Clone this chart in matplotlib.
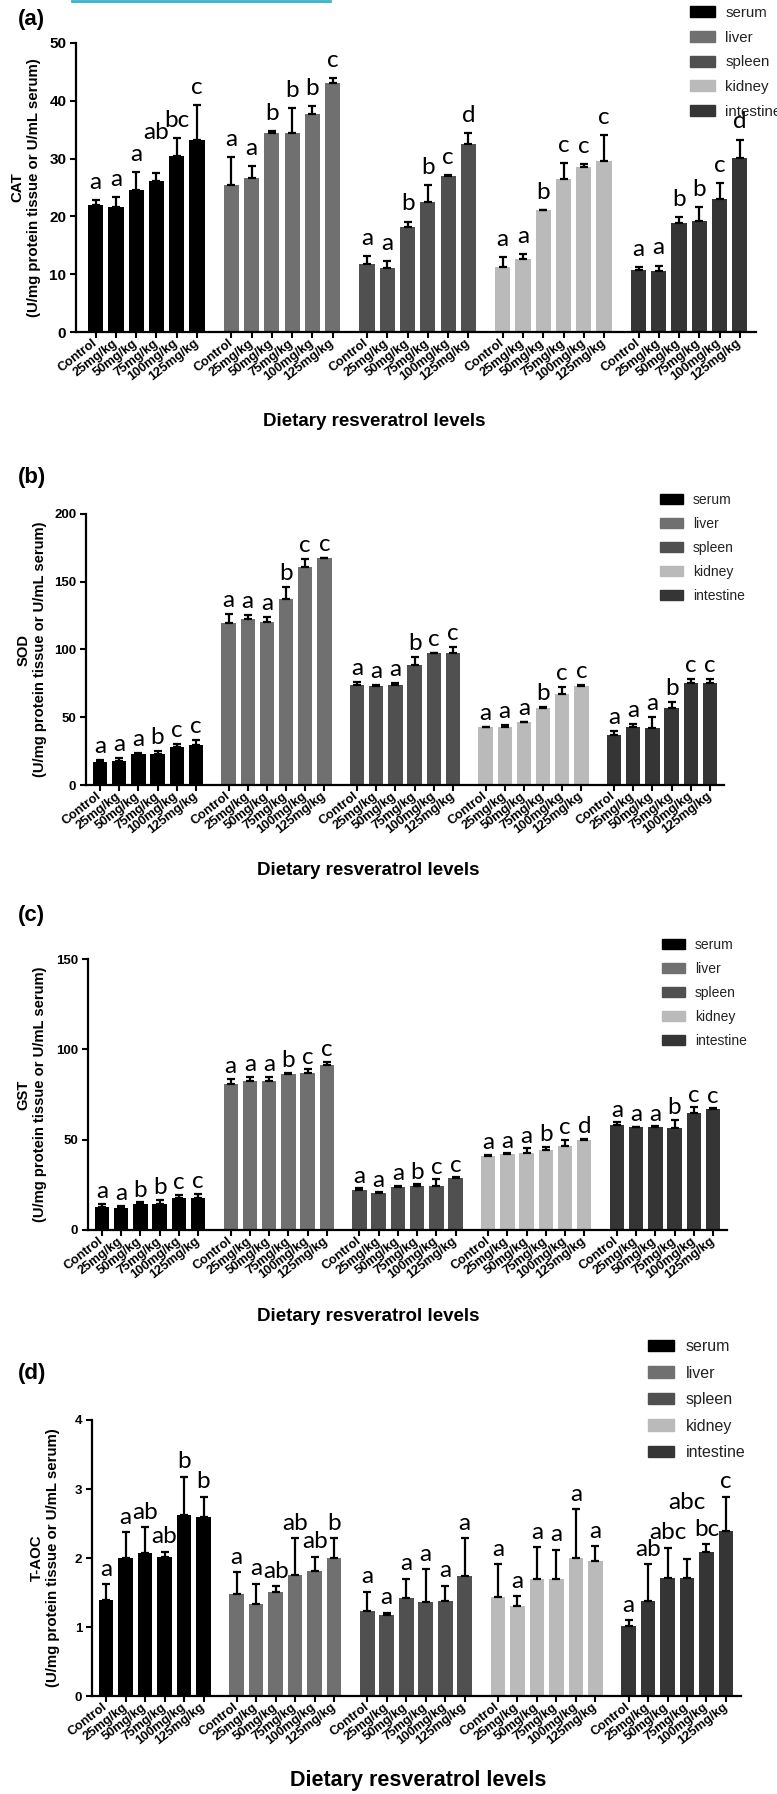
import numpy as np
import matplotlib
matplotlib.use("Agg")
import matplotlib.pyplot as plt
from matplotlib.lines import Line2D

# ---- data ----
doses = ["Control", "25mg/kg", "50mg/kg", "75mg/kg", "100mg/kg", "125mg/kg"]
tissues = ["serum", "liver", "spleen", "kidney", "intestine"]
tissue_colors = ["#000000", "#707070", "#505050", "#bababa", "#353535"]

# (a) CAT, rows = tissues, cols = doses
cat_mean = [[21.9, 21.7, 24.6, 26.1, 30.5, 33.3],
            [25.5, 26.6, 34.5, 34.5, 37.7, 43.1],
            [11.8, 11.1, 18.1, 22.5, 27.0, 32.5],
            [11.3, 12.7, 21.1, 26.4, 28.5, 29.6],
            [10.8, 10.6, 18.9, 19.2, 23.0, 30.1]]
cat_err = [[0.9, 1.7, 3.1, 1.4, 3.1, 5.9],
           [4.7, 2.1, 0.3, 4.3, 1.4, 0.9],
           [1.3, 1.1, 1.0, 2.9, 0.1, 1.9],
           [1.7, 0.8, 0.0, 2.8, 0.5, 4.5],
           [0.4, 0.9, 1.0, 2.4, 2.8, 3.2]]
cat_sig = [["a", "a", "a", "ab", "bc", "c"],
           ["a", "a", "b", "b", "b", "c"],
           ["a", "a", "b", "b", "c", "d"],
           ["a", "a", "b", "c", "c", "c"],
           ["a", "a", "b", "b", "c", "d"]]

# (b) SOD
sod_mean = [[16.7, 17.9, 23.1, 22.6, 28.3, 29.5],
            [119.3, 122.5, 120.5, 137.0, 161.1, 167.3],
            [74.0, 73.3, 73.6, 88.3, 97.4, 97.4],
            [42.6, 43.0, 46.2, 56.6, 67.2, 73.1],
            [37.1, 43.0, 42.3, 56.6, 75.0, 75.5]]
sod_err = [[1.7, 1.8, 0.2, 2.7, 1.7, 3.7],
           [6.7, 3.2, 3.7, 9.3, 5.5, 0.0],
           [1.8, 0.7, 1.9, 6.4, 0.0, 4.7],
           [0.0, 1.3, 0.5, 0.7, 4.9, 0.5],
           [2.8, 1.8, 8.1, 4.4, 3.5, 2.7]]
sod_sig = [["a", "a", "a", "b", "c", "c"],
           ["a", "a", "a", "b", "c", "c"],
           ["a", "a", "a", "b", "c", "c"],
           ["a", "a", "a", "b", "c", "c"],
           ["a", "a", "a", "b", "c", "c"]]

# (c) GST
gst_mean = [[12.9, 12.0, 14.4, 14.4, 17.9, 17.5],
            [80.6, 82.5, 82.5, 86.2, 86.7, 91.1],
            [22.1, 20.7, 24.0, 24.5, 24.3, 29.0],
            [41.1, 42.1, 42.4, 44.3, 46.5, 49.8],
            [58.1, 57.0, 57.2, 56.6, 64.9, 67.0]]
gst_err = [[1.5, 1.5, 0.9, 2.2, 1.5, 2.4],
           [3.0, 2.3, 2.3, 0.9, 2.2, 2.0],
           [1.0, 0.3, 0.5, 0.8, 3.8, 0.3],
           [0.4, 0.3, 2.8, 1.8, 3.3, 0.6],
           [1.5, 0.2, 0.2, 4.3, 3.0, 0.4]]
gst_sig = [["a", "a", "b", "b", "c", "c"],
           ["a", "a", "a", "b", "c", "c"],
           ["a", "a", "a", "b", "c", "c"],
           ["a", "a", "a", "b", "c", "d"],
           ["a", "a", "a", "b", "c", "c"]]

# (d) T-AOC
taoc_mean = [[1.39, 2.00, 2.07, 2.02, 2.63, 2.59],
             [1.48, 1.33, 1.51, 1.75, 1.81, 2.00],
             [1.23, 1.17, 1.42, 1.36, 1.37, 1.74],
             [1.43, 1.30, 1.69, 1.69, 2.00, 1.95],
             [1.01, 1.38, 1.71, 1.71, 2.09, 2.39]]
taoc_err = [[0.23, 0.37, 0.38, 0.07, 0.55, 0.30],
            [0.31, 0.30, 0.08, 0.54, 0.21, 0.29],
            [0.28, 0.04, 0.28, 0.48, 0.23, 0.55],
            [0.48, 0.15, 0.47, 0.43, 0.71, 0.22],
            [0.09, 0.53, 0.44, 0.28, 0.11, 0.50]]
taoc_sig = [["a", "a", "ab", "ab", "b", "b"],
            ["a", "a", "ab", "ab", "ab", "b"],
            ["a", "a", "a", "a", "a", "a"],
            ["a", "a", "a", "a", "a", "a"],
            ["a", "ab", "abc", "abc", "bc", "c"]]

# ---- layout (pixel positions in a 777x1794 canvas) ----
W, H = 777, 1794
GROUP_STEP = 6.7

panels = [
    dict(tag="(a)", tag_y=20, name="CAT", mean=cat_mean, err=cat_err, sig=cat_sig,
         box=(76, 43, 756, 332), lpad=0.97, rpad=0.8, ymax=50, step=10,
         ytick_fs=11, ylab_x=26, ylab_fs=10.8, xlab=(374, 422, 13.5), leg=(690, 17, 10.8),
         sig_off=8, lift={(0, 3): 4.0}),
    dict(tag="(b)", tag_y=478, name="SOD", mean=sod_mean, err=sod_err, sig=sod_sig,
         box=(86, 514, 724, 785), lpad=0.73, rpad=0.73, ymax=200, step=50,
         ytick_fs=9.5, ylab_x=32, ylab_fs=10.6, xlab=(368, 870, 13.5), leg=(660, 503, 10),
         sig_off=5, lift={}),
    dict(tag="(c)", tag_y=915, name="GST", mean=gst_mean, err=gst_err, sig=gst_sig,
         box=(88, 959, 727, 1230), lpad=0.73, rpad=0.73, ymax=150, step=50,
         ytick_fs=9.5, ylab_x=32, ylab_fs=10.6, xlab=(368, 1316, 13.5), leg=(662, 948, 10),
         sig_off=4, lift={}),
    dict(tag="(d)", tag_y=1373, name="T-AOC", mean=taoc_mean, err=taoc_err, sig=taoc_sig,
         box=(92, 1420, 741, 1696), lpad=0.72, rpad=0.77, ymax=4, step=1,
         ytick_fs=9.5, ylab_x=45, ylab_fs=10.8, xlab=(418, 1780, 15.5), leg=(648, 1351, 11.5),
         sig_off=6, lift={(4, 3): 0.6}),
]

plt.rcParams['font.family'] = ['Liberation Sans', 'DejaVu Sans']

fig = plt.figure(figsize=(W / 100, H / 100), dpi=100)

# the cyan link underline at the very top
fig.add_artist(Line2D([72 / W, 330 / W], [1 - 1 / H, 1 - 1 / H], color="#3ab3c9", lw=2))

for p in panels:
    l, t, r, b = p["box"]
    ax = fig.add_axes([l / W, 1 - b / H, (r - l) / W, (b - t) / H])

    xticks = []
    for g in range(len(tissues)):
        xs = g * GROUP_STEP + np.arange(len(doses))
        m = np.array(p["mean"][g])
        e = np.array(p["err"][g])
        ax.bar(xs, m, width=0.75, color=tissue_colors[g], zorder=2)
        ax.errorbar(xs, m, yerr=[np.zeros(len(m)), e], fmt="none", ecolor="black",
                    elinewidth=1.6, capsize=3, capthick=1.6, zorder=3)
        # significance letters above the error bars
        for i in range(len(doses)):
            top = m[i] + e[i] + p["lift"].get((g, i), 0)
            ax.annotate(p["sig"][g][i], (xs[i], top), xytext=(0, p["sig_off"]),
                        textcoords="offset points", ha="center", va="baseline",
                        fontsize=17.5, family="Lato", color="black", zorder=4)
        xticks.extend(xs)

    ax.set_xlim(-p["lpad"], 4 * GROUP_STEP + 5 + p["rpad"])
    ax.set_ylim(0, p["ymax"])
    ax.set_yticks(np.arange(0, p["ymax"] + p["step"] / 2, p["step"]))
    ax.set_xticks(xticks)
    ax.set_xticklabels(doses * len(tissues), rotation=38, ha="right", va="center",
                       rotation_mode="anchor", fontsize=9.3, fontweight="bold")
    for lab in ax.get_yticklabels():
        lab.set_fontweight("bold")
        lab.set_fontsize(p["ytick_fs"])

    for s in ["top", "right"]:
        ax.spines[s].set_visible(False)
    for s in ["left", "bottom"]:
        ax.spines[s].set_linewidth(1.6)
    ax.tick_params(direction="out", length=4.5, width=1.5, pad=2.5)

    # y label (two lines)
    fig.text(p["ylab_x"] / W, 1 - (t + b) / 2 / H,
             p["name"] + "\n(U/mg protein tissue or U/mL serum)",
             rotation=90, ha="center", va="center", multialignment="center",
             fontsize=p["ylab_fs"], fontweight="bold", linespacing=1.25)

    # x label
    xl, yl, fs = p["xlab"]
    fig.text(xl / W, 1 - yl / H, "Dietary resveratrol levels", ha="center", va="center",
             fontsize=fs, fontweight="bold")

    # panel tag
    fig.text(18 / W, 1 - p["tag_y"] / H, p["tag"], ha="left", va="center",
             fontsize=16, fontweight="bold")

    # legend
    lx, ly, lfs = p["leg"]
    handles = [plt.Rectangle((0, 0), 1, 1, color=c) for c in tissue_colors]
    ax.legend(handles, tissues, loc="upper left",
              bbox_to_anchor=(lx / W, 1 - (ly - 0.75 * lfs * 100 / 72) / H),
              bbox_transform=fig.transFigure, frameon=False, fontsize=lfs,
              handlelength=1.65, handleheight=0.75, handletextpad=0.7,
              labelspacing=0.72, borderpad=0, borderaxespad=0, labelcolor="#222222")

fig.savefig("out.png", dpi=100)
